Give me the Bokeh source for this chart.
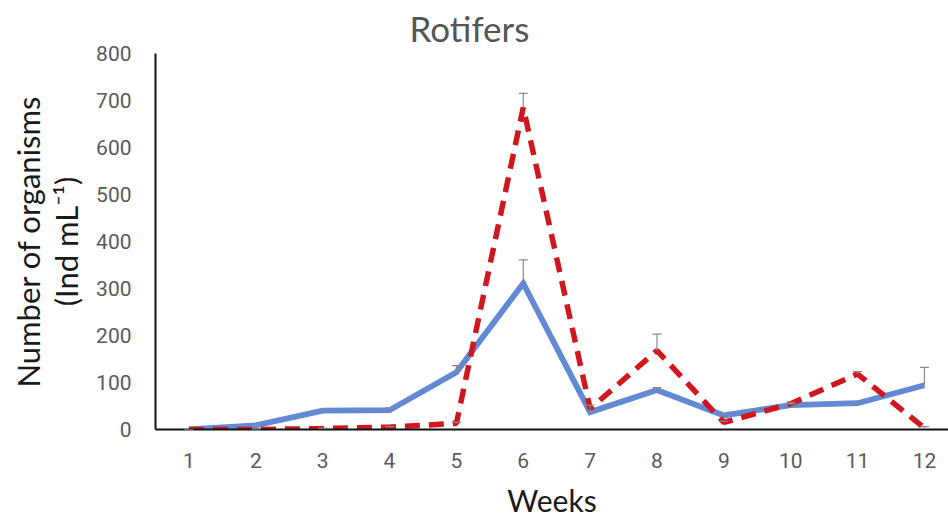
from bokeh.plotting import figure
from bokeh.models import ColumnDataSource, Whisker, TeeHead, FixedTicker, Range1d
from bokeh.embed import file_html
from bokeh.resources import INLINE

weeks = [1, 2, 3, 4, 5, 6, 7, 8, 9, 10, 11, 12]
solid_values = [0, 9, 40, 41, 122, 311, 37, 84, 30, 52, 56, 94]
solid_errors = [0, 1, 2, 5, 14, 50, 4, 5, 4, 3, 3, 38]
dashed_values = [0, 0, 2, 5, 13, 685, 44, 168, 15, 55, 118, 3]
dashed_errors = [0, 0, 1, 1, 2, 30, 8, 35, 3, 3, 5, 3]
y_ticks = [0, 100, 200, 300, 400, 500, 600, 700, 800]
x_title = "Weeks"
y_title = "Number of organisms\n(Ind mL\u207b\u00b9)"

solid_src = ColumnDataSource(dict(
    x=weeks, y=solid_values,
    lower=solid_values,
    upper=[v + e for v, e in zip(solid_values, solid_errors)],
))
dashed_src = ColumnDataSource(dict(
    x=weeks, y=dashed_values,
    lower=dashed_values,
    upper=[v + e for v, e in zip(dashed_values, dashed_errors)],
))

p = figure(width=948, height=520, output_backend="svg", toolbar_location=None,
           x_range=Range1d(0.5, 12.36), y_range=Range1d(0, 800),
           min_border_left=155, min_border_right=0, min_border_top=53, min_border_bottom=91)
p.outline_line_color = None
p.xgrid.grid_line_color = None
p.ygrid.grid_line_color = None
p.background_fill_color = "white"
p.border_fill_color = "white"

p.title.text = "Rotifers"
p.title.align = "left"
p.title.offset = 254
p.title.text_font = "Lato"
p.title.text_font_style = "normal"
p.title.text_font_size = "35px"
p.title.text_color = "#555555"
p.title.standoff = 9

p.line("x", "y", source=solid_src, line_color="#6289D3", line_width=5.8, line_join="miter")
p.line("x", "y", source=dashed_src, line_color="#D0161E", line_width=5.5, line_dash="15 9")

for src in (solid_src, dashed_src):
    w = Whisker(base="x", lower="lower", upper="upper", source=src,
                line_color="#8a8a8a", line_width=1.2,
                upper_head=TeeHead(size=9, line_color="#8a8a8a", line_width=1.2),
                lower_head=None, level="overlay")
    p.add_layout(w)

p.xaxis.ticker = FixedTicker(ticks=weeks)
p.yaxis.ticker = FixedTicker(ticks=y_ticks)
for ax in (p.xaxis, p.yaxis):
    ax.major_tick_line_color = None
    ax.minor_tick_line_color = None
    ax.major_tick_out = 0
    ax.major_tick_in = 0
    ax.axis_line_color = "#111111"
    ax.axis_line_width = 2
    ax.major_label_text_font = "Roboto"
    ax.major_label_text_font_size = "21px"
    ax.major_label_text_color = "#5a5a5a"
    ax.axis_label_text_font = "Lato"
    ax.axis_label_text_font_style = "normal"
    ax.axis_label_text_color = "#1a1a1a"

p.xaxis.axis_label = x_title
p.xaxis.axis_label_text_font_size = "30px"
p.xaxis.axis_label_text_line_height = 1.0
p.xaxis.major_label_standoff = 23
p.xaxis.axis_label_standoff = 11
p.yaxis.axis_label = y_title
p.yaxis.axis_label_text_font_size = "31px"
p.yaxis.axis_label_text_line_height = 1.0
p.yaxis.major_label_standoff = 24
p.yaxis.axis_label_standoff = 8

open("out.html", "w").write(file_html(p, INLINE))
